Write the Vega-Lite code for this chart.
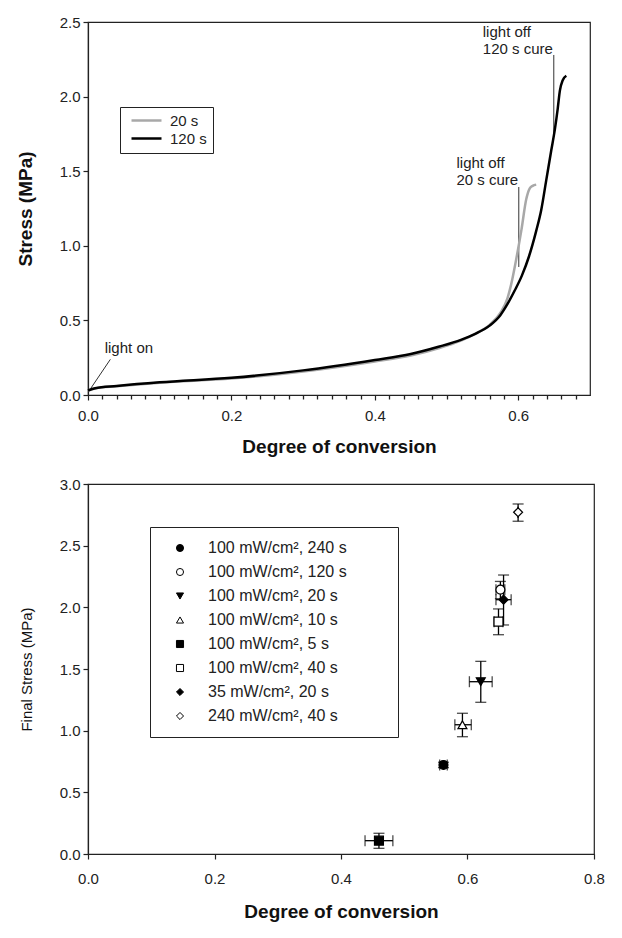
{
  "$schema": "https://vega.github.io/schema/vega-lite/v6.json",
  "padding": {"left": 15, "top": 14, "right": 5, "bottom": 5},
  "spacing": 19,
  "background": "white",
  "config": {
    "font": "Liberation Sans",
    "view": {"stroke": "#222", "strokeWidth": 1.2},
    "axis": {
      "domainColor": "#222", "tickColor": "#222", "labelColor": "#222", "titleColor": "#111",
      "labelFontSize": 15, "labelFont": "Liberation Sans", "titleFont": "Liberation Sans",
      "grid": false, "tickSize": 5, "domainWidth": 1.2, "tickWidth": 1.2,
      "labelFlush": false, "labelOverlap": false
    },
    "text": {"font": "Liberation Sans"}
  },
  "datasets": {
    "curves": [
      {"cure": "20 s", "x": 0.0, "stress": 0.03},
      {"cure": "20 s", "x": 0.01, "stress": 0.044},
      {"cure": "20 s", "x": 0.04, "stress": 0.058},
      {"cure": "20 s", "x": 0.1, "stress": 0.082},
      {"cure": "20 s", "x": 0.2, "stress": 0.11},
      {"cure": "20 s", "x": 0.3, "stress": 0.158},
      {"cure": "20 s", "x": 0.4, "stress": 0.225},
      {"cure": "20 s", "x": 0.45, "stress": 0.265},
      {"cure": "20 s", "x": 0.49, "stress": 0.315},
      {"cure": "20 s", "x": 0.52, "stress": 0.365},
      {"cure": "20 s", "x": 0.54, "stress": 0.41},
      {"cure": "20 s", "x": 0.56, "stress": 0.47},
      {"cure": "20 s", "x": 0.575, "stress": 0.55},
      {"cure": "20 s", "x": 0.585, "stress": 0.65},
      {"cure": "20 s", "x": 0.59, "stress": 0.74},
      {"cure": "20 s", "x": 0.5975, "stress": 0.92},
      {"cure": "20 s", "x": 0.6045, "stress": 1.11},
      {"cure": "20 s", "x": 0.611, "stress": 1.31},
      {"cure": "20 s", "x": 0.616, "stress": 1.385},
      {"cure": "20 s", "x": 0.62, "stress": 1.402},
      {"cure": "20 s", "x": 0.625, "stress": 1.41},
      {"cure": "120 s", "x": 0.0, "stress": 0.03},
      {"cure": "120 s", "x": 0.01, "stress": 0.045},
      {"cure": "120 s", "x": 0.04, "stress": 0.06},
      {"cure": "120 s", "x": 0.1, "stress": 0.085},
      {"cure": "120 s", "x": 0.2, "stress": 0.115},
      {"cure": "120 s", "x": 0.3, "stress": 0.165},
      {"cure": "120 s", "x": 0.4, "stress": 0.235},
      {"cure": "120 s", "x": 0.45, "stress": 0.275},
      {"cure": "120 s", "x": 0.49, "stress": 0.325},
      {"cure": "120 s", "x": 0.52, "stress": 0.37},
      {"cure": "120 s", "x": 0.54, "stress": 0.41},
      {"cure": "120 s", "x": 0.56, "stress": 0.465},
      {"cure": "120 s", "x": 0.575, "stress": 0.535},
      {"cure": "120 s", "x": 0.585, "stress": 0.61},
      {"cure": "120 s", "x": 0.595, "stress": 0.70},
      {"cure": "120 s", "x": 0.605, "stress": 0.80},
      {"cure": "120 s", "x": 0.615, "stress": 0.93},
      {"cure": "120 s", "x": 0.625, "stress": 1.1},
      {"cure": "120 s", "x": 0.632, "stress": 1.24},
      {"cure": "120 s", "x": 0.639, "stress": 1.44},
      {"cure": "120 s", "x": 0.646, "stress": 1.64},
      {"cure": "120 s", "x": 0.651, "stress": 1.78},
      {"cure": "120 s", "x": 0.655, "stress": 1.92},
      {"cure": "120 s", "x": 0.658, "stress": 2.04},
      {"cure": "120 s", "x": 0.662, "stress": 2.11},
      {"cure": "120 s", "x": 0.667, "stress": 2.14}
    ],
    "notes": [
      {"label": "light off", "x": 0.5505, "y": 2.433},
      {"label": "120 s cure", "x": 0.5505, "y": 2.319},
      {"label": "light off", "x": 0.5138, "y": 1.553},
      {"label": "20 s cure", "x": 0.5138, "y": 1.441},
      {"label": "light on", "x": 0.0233, "y": 0.313}
    ],
    "leaders": [
      {"x": 0.6495, "y": 2.279, "x2": 0.6495, "y2": 1.75},
      {"x": 0.6007, "y": 1.394, "x2": 0.6007, "y2": 0.858},
      {"x": 0.0024, "y": 0.034, "x2": 0.0312, "y2": 0.239}
    ],
    "points": [
      {"series": "100 mW/cm², 5 s", "x": 0.46, "y": 0.108, "xlo": 0.438, "xhi": 0.482, "ylo": 0.046, "yhi": 0.168},
      {"series": "100 mW/cm², 240 s", "x": 0.562, "y": 0.722, "xlo": 0.556, "xhi": 0.568, "ylo": 0.7, "yhi": 0.744},
      {"series": "100 mW/cm², 10 s", "x": 0.592, "y": 1.048, "xlo": 0.58, "xhi": 0.606, "ylo": 0.951, "yhi": 1.141},
      {"series": "100 mW/cm², 20 s", "x": 0.621, "y": 1.397, "xlo": 0.603, "xhi": 0.639, "ylo": 1.23, "yhi": 1.562},
      {"series": "100 mW/cm², 40 s", "x": 0.649, "y": 1.884, "xlo": 0.642, "xhi": 0.656, "ylo": 1.778, "yhi": 1.987},
      {"series": "100 mW/cm², 120 s", "x": 0.652, "y": 2.143, "xlo": 0.645, "xhi": 0.659, "ylo": 2.07, "yhi": 2.21},
      {"series": "35 mW/cm², 20 s", "x": 0.657, "y": 2.062, "xlo": 0.645, "xhi": 0.669, "ylo": 1.857, "yhi": 2.262},
      {"series": "240 mW/cm², 40 s", "x": 0.68, "y": 2.771, "xlo": 0.68, "xhi": 0.68, "ylo": 2.698, "yhi": 2.838}
    ]
  },
  "vconcat": [
    {
      "width": 502,
      "height": 373,
      "resolve": {"scale": {"x": "shared"}, "axis": {"x": "independent"}},
      "layer": [
        {
          "data": {"name": "leaders"},
          "mark": {"type": "rule", "color": "#333", "strokeWidth": 1},
          "encoding": {
            "x": {"field": "x", "type": "quantitative", "scale": {"domain": [0, 0.7], "nice": false}, "axis": null},
            "y": {"field": "y", "type": "quantitative", "scale": {"domain": [0, 2.5], "nice": false}},
            "x2": {"field": "x2"},
            "y2": {"field": "y2"}
          }
        },
        {
          "data": {"name": "curves"},
          "mark": {"type": "line", "strokeWidth": 2.5, "interpolate": "monotone"},
          "encoding": {
            "x": {
              "field": "x", "type": "quantitative",
              "scale": {"domain": [0, 0.7], "nice": false},
              "axis": {"orient": "bottom", "values": [0, 0.2, 0.4, 0.6], "format": ".1f", "title": "Degree of conversion",
                "titleFontSize": 19, "titleFontWeight": "bold", "labelPadding": 8, "titlePadding": 14}
            },
            "y": {
              "field": "stress", "type": "quantitative",
              "scale": {"domain": [0, 2.5], "nice": false},
              "axis": {"values": [0, 0.5, 1, 1.5, 2, 2.5], "format": ".1f", "title": "Stress (MPa)",
                "titleFontSize": 19, "titleFontWeight": "bold", "titlePadding": 24, "labelPadding": 3}
            },
            "color": {
              "field": "cure", "type": "nominal",
              "scale": {"domain": ["20 s", "120 s"], "range": ["#a8a8a8", "#000000"]},
              "legend": {
                "orient": "none", "legendX": 32, "legendY": 85, "title": null,
                "strokeColor": "#222", "fillColor": "white", "padding": 6, "rowPadding": 2,
                "symbolType": "M-1,0H5", "symbolSize": 100, "symbolStrokeWidth": 2.5,
                "symbolOffset": 3, "labelOffset": 26, "labelFontSize": 15, "labelColor": "#222"
              }
            }
          }
        },
        {
          "data": {"name": "notes"},
          "mark": {"type": "text", "align": "left", "baseline": "middle", "fontSize": 15, "color": "#222"},
          "encoding": {
            "x": {
              "field": "x", "type": "quantitative",
              "axis": {"orient": "bottom", "values": [0.02, 0.04, 0.06, 0.08, 0.1, 0.12, 0.14, 0.16, 0.18, 0.22, 0.24, 0.26, 0.28, 0.3, 0.32, 0.34, 0.36, 0.38, 0.42, 0.44, 0.46, 0.48, 0.5, 0.52, 0.54, 0.56, 0.58, 0.62, 0.64, 0.66, 0.68],
                "labels": false, "domain": false, "tickSize": 4, "tickWidth": 1.3, "tickColor": "#222", "title": null}
            },
            "y": {"field": "y", "type": "quantitative"},
            "text": {"field": "label"}
          }
        }
      ]
    },
    {
      "width": 506,
      "height": 370,
      "data": {"name": "points"},
      "layer": [
        {
          "mark": {"type": "errorbar", "ticks": {"size": 11, "thickness": 1.3}, "rule": {"strokeWidth": 1.3}, "color": "black"},
          "encoding": {
            "x": {"field": "x", "type": "quantitative", "scale": {"domain": [0, 0.8], "nice": false},
              "axis": {"values": [0, 0.2, 0.4, 0.6, 0.8], "format": ".1f", "title": "Degree of conversion",
                "titleFontSize": 19, "titleFontWeight": "bold", "labelPadding": 12, "titlePadding": 16}},
            "y": {"field": "ylo", "type": "quantitative", "scale": {"domain": [0, 3], "nice": false},
              "axis": {"values": [0, 0.5, 1, 1.5, 2, 2.5, 3], "format": ".1f", "title": "Final Stress (MPa)",
                "titleFontSize": 15, "titleFontWeight": "normal", "titlePadding": 25, "labelPadding": 3}},
            "y2": {"field": "yhi"}
          }
        },
        {
          "mark": {"type": "errorbar", "ticks": {"size": 11, "thickness": 1.3}, "rule": {"strokeWidth": 1.3}, "color": "black"},
          "encoding": {
            "y": {"field": "y", "type": "quantitative", "title": "Final Stress (MPa)"},
            "x": {"field": "xlo", "type": "quantitative", "title": "Degree of conversion"},
            "x2": {"field": "xhi"}
          }
        },
        {
          "mark": {"type": "point", "filled": false, "color": "black", "strokeWidth": 1.2, "opacity": 1, "size": 80},
          "encoding": {
            "x": {"field": "x", "type": "quantitative", "title": "Degree of conversion"},
            "y": {"field": "y", "type": "quantitative", "title": "Final Stress (MPa)"},
            "shape": {
              "field": "series", "type": "nominal",
              "scale": {
                "domain": ["100 mW/cm², 240 s", "100 mW/cm², 120 s", "100 mW/cm², 20 s", "100 mW/cm², 10 s", "100 mW/cm², 5 s", "100 mW/cm², 40 s", "35 mW/cm², 20 s", "240 mW/cm², 40 s"],
                "range": ["circle", "circle", "triangle-down", "triangle-up", "square", "square", "diamond", "diamond"]
              },
              "legend": {
                "orient": "none", "legendX": 62, "legendY": 505, "title": " ", "titleOrient": "right", "titlePadding": 38, "titleFontSize": 16,
                "strokeColor": "#222", "fillColor": "white", "padding": 13, "rowPadding": 8,
                "symbolSize": 50, "symbolStrokeWidth": 1,
                "symbolOffset": 9, "labelOffset": 20, "labelFontSize": 16, "labelColor": "#222", "labelLimit": 400
              }
            },
            "fill": {
              "field": "series", "type": "nominal",
              "scale": {
                "domain": ["100 mW/cm², 240 s", "100 mW/cm², 120 s", "100 mW/cm², 20 s", "100 mW/cm², 10 s", "100 mW/cm², 5 s", "100 mW/cm², 40 s", "35 mW/cm², 20 s", "240 mW/cm², 40 s"],
                "range": ["black", "white", "black", "white", "black", "white", "black", "white"]
              },
              "legend": {
                "orient": "none", "legendX": 62, "legendY": 505, "title": " ", "titleOrient": "right", "titlePadding": 38, "titleFontSize": 16,
                "strokeColor": "#222", "fillColor": "white", "padding": 13, "rowPadding": 8,
                "symbolSize": 50, "symbolStrokeWidth": 1,
                "symbolOffset": 9, "labelOffset": 20, "labelFontSize": 16, "labelColor": "#222", "labelLimit": 400
              }
            }
          }
        }
      ]
    }
  ]
}
